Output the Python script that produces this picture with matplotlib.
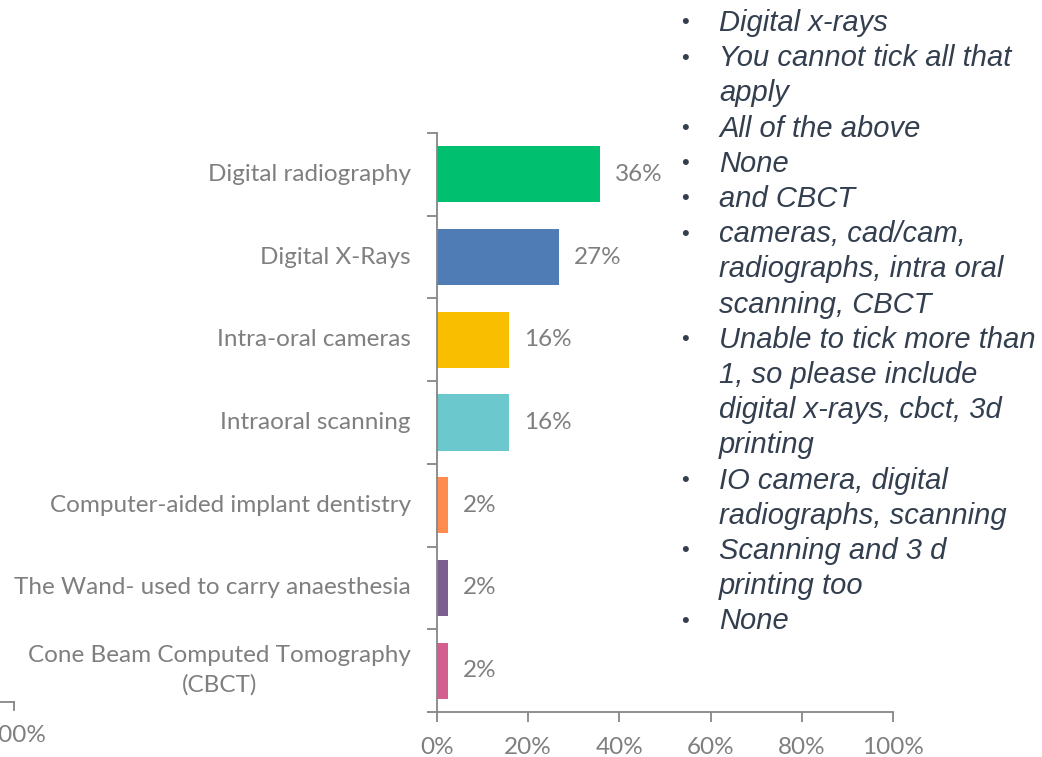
import matplotlib
matplotlib.use("Agg")
import matplotlib.pyplot as plt
from matplotlib.lines import Line2D
from matplotlib.ticker import FuncFormatter

# Survey results: which digital technologies are used in practice
categories = [
    "Digital radiography",
    "Digital X-Rays",
    "Intra-oral cameras",
    "Intraoral scanning",
    "Computer-aided implant dentistry",
    "The Wand- used to carry anaesthesia",
    "Cone Beam Computed Tomography\n(CBCT)",
]
shares = [35.8, 26.8, 15.8, 15.8, 2.4, 2.4, 2.4]
value_labels = ["36%", "27%", "16%", "16%", "2%", "2%", "2%"]
bar_colors = ["#00BF6F", "#507CB6", "#F9BE00", "#6BC8CD", "#FF8B4F", "#7D5E90", "#D25F90"]
x_ticks = [0, 20, 40, 60, 80, 100]

# Free-text "other" answers shown beside the chart
other_answers = [
    ["Digital x-rays"],
    ["You cannot tick all that", "apply"],
    ["All of the above"],
    ["None"],
    ["and CBCT"],
    ["cameras, cad/cam,", "radiographs, intra oral", "scanning, CBCT"],
    ["Unable to tick more than", "1, so please include", "digital x-rays, cbct, 3d", "printing"],
    ["IO camera, digital", "radiographs, scanning"],
    ["Scanning and 3 d", "printing too"],
    ["None"],
]

W, H = 1042, 757
fig = plt.figure(figsize=(W / 100, H / 100), dpi=100)
grey = "#7F7F7F"
axis_grey = "#868686"
label_font = "Lato"
label_size = 17.5

ax = fig.add_axes([437 / W, 1 - 712 / H, (893 - 437) / W, (712 - 133) / H])
n = len(categories)
ypos = list(range(n))
ax.barh(ypos, shares, height=0.68, color=bar_colors, zorder=2)
ax.set_ylim(n - 0.5, -0.5)
ax.set_xlim(0, 100)

for y, v, lab in zip(ypos, shares, value_labels):
    ax.text(v + 3.2, y, lab, va="center", ha="left", color=grey,
            fontsize=label_size, family=label_font)

for s in ["top", "right"]:
    ax.spines[s].set_visible(False)
for s in ["left", "bottom"]:
    ax.spines[s].set_color(axis_grey)
    ax.spines[s].set_linewidth(1.3)

ax.set_xticks(x_ticks)
ax.xaxis.set_major_formatter(FuncFormatter(lambda v, p: f"{v:.0f}%"))
ax.tick_params(axis="x", direction="out", length=7, width=1.3, color=axis_grey,
               labelcolor=grey, labelsize=label_size, pad=11)

# Category ticks sit between the bars; labels sit at bar centres
ax.set_yticks([i - 0.5 for i in range(n + 1)])
ax.set_yticklabels([])
ax.tick_params(axis="y", direction="out", length=7, width=1.3, color=axis_grey)
for y, cat in zip(ypos, categories):
    ax.annotate(cat, xy=(0, y), xycoords=("axes fraction", "data"),
                xytext=(-26, 0), textcoords="offset pixels",
                ha="right", va="center", multialignment="center",
                color=grey, fontsize=label_size, family=label_font, linespacing=1.45)

for lab in ax.get_xticklabels():
    lab.set_family(label_font)

# Edge of a neighbouring chart's axis
fig.add_artist(Line2D([0 / W, 14 / W], [1 - 702 / H, 1 - 702 / H], color=axis_grey, lw=1.3))
fig.add_artist(Line2D([14 / W, 14 / W], [1 - 702 / H, 1 - 710 / H], color=axis_grey, lw=1.3))
fig.text(-16 / W, 1 - 735 / H, "100%", ha="left", va="center", color=grey,
         fontsize=label_size, family=label_font)

# Bulleted list of other answers
text_color = "#333F4F"
line_h = 35.2
top_y = 23
line = 0
for answer in other_answers:
    for j, txt in enumerate(answer):
        yy = 1 - (top_y + line * line_h) / H
        if j == 0:
            fig.text(685 / W, yy, "•", ha="center", va="center", color=text_color,
                     fontsize=16, family="Liberation Sans")
        fig.text(719 / W, yy, txt, ha="left", va="center", color=text_color,
                 fontsize=21, style="italic", family="Liberation Sans")
        line += 1

fig.savefig("out.png", dpi=100)
